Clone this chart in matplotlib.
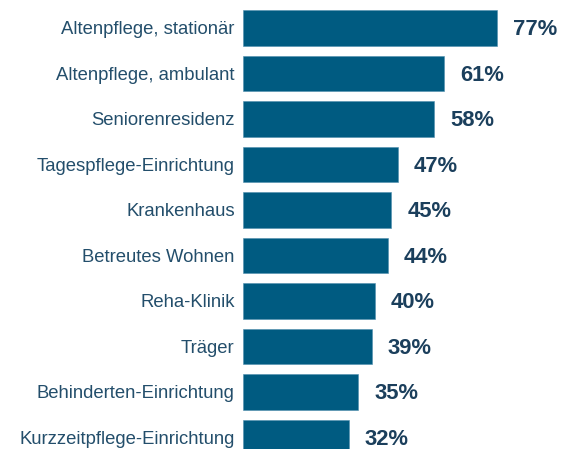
import numpy as np
import matplotlib
matplotlib.use("Agg")
import matplotlib.pyplot as plt

# categories and shares (%), top to bottom
categories = ["Altenpflege, stationär", "Altenpflege, ambulant", "Seniorenresidenz",
              "Tagespflege-Einrichtung", "Krankenhaus", "Betreutes Wohnen",
              "Reha-Klinik", "Träger", "Behinderten-Einrichtung",
              "Kurzzeitpflege-Einrichtung"]
values = [77, 61, 58, 47, 45, 44, 40, 39, 35, 32]

plt.rcParams['font.family'] = ['Liberation Sans', 'DejaVu Sans']

fig = plt.figure(figsize=(5.65, 4.49), dpi=100)
ax = fig.add_axes([243/565, 0, 322/565, 1])

y = np.arange(len(categories))
ax.barh(y, values, height=0.79, color='#005b81', edgecolor='#4f8fae', linewidth=0.4)

for yi, v in zip(y, values):
    ax.text(v + 4.8, yi + 0.04, f"{v}%", va='center', ha='left', fontsize=15.8,
            fontweight='bold', color='#1b3f5c')

ax.set_yticks(y)
ax.set_yticklabels(categories, fontsize=13.3, color='#234e6b')
ax.tick_params(axis='y', length=0, pad=6)
ax.set_xticks([])
ax.set_xlim(0, 97.6)
ax.set_ylim(9.253, -0.615)
for s in ax.spines.values():
    s.set_visible(False)

fig.savefig("out.png", dpi=100)
